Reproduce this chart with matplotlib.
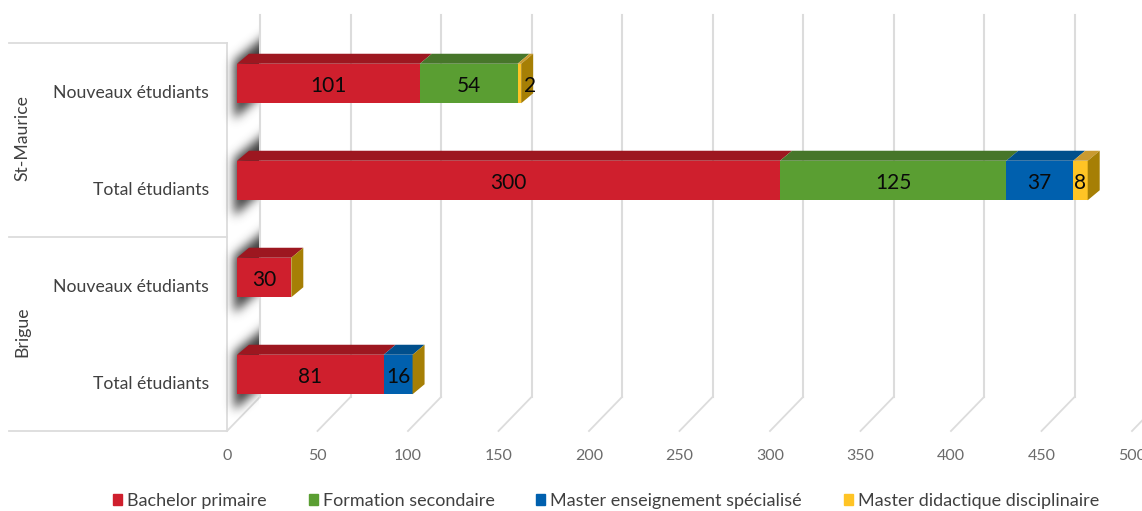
import matplotlib
matplotlib.use("Agg")
import matplotlib.pyplot as plt
import numpy as np
from matplotlib.patches import Polygon, Rectangle

plt.rcParams['font.family'] = ['Lato', 'DejaVu Sans']

groups = ["Brigue", "St-Maurice"]
categories = ["Total étudiants", "Nouveaux étudiants", "Total étudiants", "Nouveaux étudiants"]
series_names = ["Bachelor primaire", "Formation secondaire",
                "Master enseignement spécialisé", "Master didactique disciplinaire"]
bachelor = [81, 30, 300, 101]
secondaire = [0, 0, 125, 54]
specialise = [16, 0, 37, 0]
didactique = [0, 0, 8, 2]
all_series = [bachelor, secondaire, specialise, didactique]
x_ticks = [0, 50, 100, 150, 200, 250, 300, 350, 400, 450, 500]

front_cols = ["#cf1f2d", "#5a9e32", "#0060ae", "#ffc425"]
top_cols = ["#9d1720", "#47762a", "#004f8c", "#c99a30"]
side_col = "#a67f05"
grid_col = "#dcdcdc"

W, H = 1142, 511
fig = plt.figure(figsize=(W / 100, H / 100), dpi=100, facecolor="white")
L, R, T, B = 227, 1132, 43, 431
ax = fig.add_axes([L / W, 1 - B / H, (R - L) / W, (B - T) / H])
SX = (R - L) / 500
SY = (B - T) / 4


def dx(px):
    return px / SX


def dy(px):
    return px / SY


def X(px):
    return (px - L) / SX


def Y(px):
    return (B - px) / SY - 0.5


# separators / walls
for yy in (-0.5, 1.5, 3.5):
    ax.plot([X(9), 0], [yy, yy], color=grid_col, lw=1.3, clip_on=False, zorder=1)
ax.plot([0, 0], [-0.5, 3.5], color=grid_col, lw=1.3, clip_on=False, zorder=1)
for v in x_ticks:
    ax.plot([v + dx(33), v + dx(33)], [Y(397), Y(15)], color=grid_col, lw=1.5,
            clip_on=False, zorder=1)
    ax.plot([v, v + dx(33)], [Y(431), Y(397)], color=grid_col, lw=1.3,
            clip_on=False, zorder=1)

# bar geometry
BAR_H = dy(39.5)
SHIFT_X = dx(10)
SHIFT_Y = dy(8)
DEPTH_X = dx(12)
DEPTH_Y = dy(10)

# soft shadow on the side wall, one blurred parallelogram per bar
px_x = np.arange(205, 300)
px_y = np.arange(-85, 75)
gx, gy_ = np.meshgrid(px_x, px_y)
mask = ((gx >= 234) & (gy_ >= -20 - 0.8 * (gx - 231)) & (gy_ <= 38 - 0.88 * (gx - 231))).astype(float)
kernel = np.exp(-0.5 * (np.arange(-16, 17) / 5.0) ** 2)
kernel /= kernel.sum()
blur = np.apply_along_axis(lambda r: np.convolve(r, kernel, mode="same"), 0, mask)
blur = np.apply_along_axis(lambda r: np.convolve(r, kernel, mode="same"), 1, blur)
keep = px_x < 259
rgba = np.zeros((len(px_y), keep.sum(), 4))
rgba[..., :3] = 0.2
rgba[..., 3] = np.clip(blur[:, keep] * 0.95, 0, 1)
for i in range(len(categories)):
    cy = i + SHIFT_Y
    ax.imshow(rgba, extent=(X(205), X(259), cy - dy(75), cy + dy(85)), origin="upper",
              aspect="auto", zorder=2, interpolation="bilinear", clip_on=False)

# bars
for i in range(len(categories)):
    left = SHIFT_X
    cy = i + SHIFT_Y
    total = sum(s[i] for s in all_series)
    for k, s in enumerate(all_series):
        v = s[i]
        if v == 0:
            continue
        ax.barh(cy, v, left=left, height=BAR_H, color=front_cols[k], zorder=4, linewidth=0)
        ax.add_patch(Polygon([(left, cy + BAR_H / 2), (left + v, cy + BAR_H / 2),
                              (left + v + DEPTH_X, cy + BAR_H / 2 + DEPTH_Y),
                              (left + DEPTH_X, cy + BAR_H / 2 + DEPTH_Y)],
                             closed=True, facecolor=top_cols[k], edgecolor="none", zorder=3))
        lx = left + v / 2 if v >= 5 else left + v + dx(9)
        ax.text(lx, cy - dy(2), str(v), ha="center", va="center", fontsize=15, color="#0a0a0a", zorder=6)
        left += v
    end = SHIFT_X + total
    ax.add_patch(Polygon([(end, cy - BAR_H / 2), (end + DEPTH_X, cy - BAR_H / 2 + DEPTH_Y),
                          (end + DEPTH_X, cy + BAR_H / 2 + DEPTH_Y), (end, cy + BAR_H / 2)],
                         closed=True, facecolor=side_col, edgecolor="none", zorder=5))

# axes
ax.set_xlim(0, 500)
ax.set_ylim(-0.5, 3.5)
for sp in ax.spines.values():
    sp.set_visible(False)
ax.patch.set_visible(False)
ax.set_xticks(x_ticks)
ax.set_yticks(range(len(categories)))
ax.set_yticklabels(categories)
ax.tick_params(axis="x", length=0, pad=13, labelsize=11.5, labelcolor="#6b6b6b")
ax.tick_params(axis="y", length=0, pad=13, labelsize=12.7, labelcolor="#404040")
for gy, g in zip((0.5, 2.5), groups):
    ax.text(X(22), gy + dy(2), g, rotation=90, ha="center", va="center", fontsize=12.7, color="#404040")

# legend
handles = [Rectangle((0, 0), 1, 1, color=c) for c in front_cols]
fig.legend(handles, series_names, loc="center", bbox_to_anchor=(606 / W, 1 - 501 / H), ncol=4,
           frameon=False, fontsize=12.95, labelcolor="#404040", handlelength=0.5, handleheight=0.56,
           handletextpad=0.28, columnspacing=2.32, borderpad=0, borderaxespad=0)

fig.savefig("out.png", dpi=100)
